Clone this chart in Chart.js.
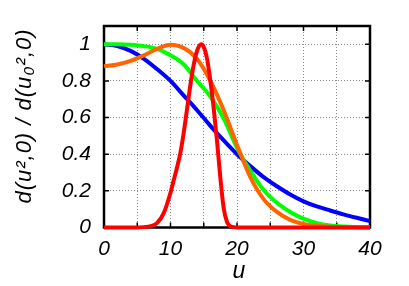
<!DOCTYPE html>
<html>
<head>
<meta charset="utf-8">
<script src="https://cdn.jsdelivr.net/npm/chart.js@4.4.1/dist/chart.umd.min.js"></script>
<style>
    html, body { margin: 0; padding: 0; background: #fff; }
    canvas { display: block; }
</style>
</head>
<body>
<canvas id="profileChart" width="409" height="286"></canvas>
<script>
// ===== Data =====
const uWide = [0, 2, 4, 6, 8, 10, 12, 14, 16, 18, 20, 22, 24, 26, 28, 30, 32, 34, 36, 38, 40];
const blueVals = [1.0, 0.991, 0.964, 0.921, 0.864, 0.80, 0.72, 0.64, 0.555, 0.475, 0.40, 0.335, 0.275, 0.225, 0.18, 0.143, 0.115, 0.093, 0.072, 0.053, 0.035];
const greenVals = [1.0, 1.0, 0.997, 0.99, 0.975, 0.94, 0.89, 0.80, 0.715, 0.595, 0.435, 0.31, 0.205, 0.135, 0.085, 0.048, 0.024, 0.011, 0.005, 0.002, 0.001];
const orangeVals = [0.88, 0.89, 0.91, 0.94, 0.975, 0.998, 0.98, 0.92, 0.80, 0.64, 0.45, 0.275, 0.155, 0.085, 0.042, 0.02, 0.009, 0.004, 0.002, 0.001, 0];

const uPeak = [0, 5, 6, 7, 8, 9, 10, 10.5, 11, 11.5, 12, 12.5, 13, 13.5, 14, 14.6, 15, 15.5, 16, 16.5, 17, 17.5, 18, 18.5, 19, 19.5, 20, 40];
const redVals = [0, 0, 0.002, 0.007, 0.025, 0.08, 0.19, 0.26, 0.33, 0.41, 0.52, 0.65, 0.78, 0.89, 0.965, 1.0, 0.985, 0.92, 0.80, 0.65, 0.47, 0.27, 0.105, 0.03, 0.007, 0.002, 0, 0];

const xGridTicks = [0, 5, 10, 15, 20, 25, 30, 35, 40];
const xLabelTicks = [0, 10, 20, 30, 40];
const yTicks = [0, 0.2, 0.4, 0.6, 0.8, 1.0];

const xTitle = 'u';
const yTitle = 'd(u\u00B2,0) / d(u\u2080\u00B2,0)';

// ===== Colors =====
const colors = {
    blue: '#0000ff',
    green: '#00ff00',
    orange: '#ff6400',
    red: '#ff0000',
    grid: '#8a8a8a'
};

const tickFont = { family: '"Liberation Sans", Arial, sans-serif', size: 21, style: 'italic' };

function toPoints(xs, ys) {
    return xs.map((x, i) => ({ x: x, y: ys[i] }));
}

function lineSet(label, xs, ys, color) {
    return {
        label: label,
        data: toPoints(xs, ys),
        borderColor: color,
        backgroundColor: color,
        borderWidth: 4,
        pointRadius: 0,
        showLine: true,
        cubicInterpolationMode: 'monotone',
        clip: 4
    };
}

// ===== Frame with inward ticks, gnuplot style =====
const framePlugin = {
    id: 'frame',
    beforeDatasetsDraw(chart) {
        const { ctx, chartArea: a, scales } = chart;
        ctx.save();
        ctx.strokeStyle = '#000';
        ctx.lineWidth = 1.5;
        ctx.beginPath();
        xGridTicks.forEach(v => {
            const px = scales.x.getPixelForValue(v);
            ctx.moveTo(px, a.bottom); ctx.lineTo(px, a.bottom - 5);
            ctx.moveTo(px, a.top); ctx.lineTo(px, a.top + 5);
        });
        yTicks.forEach(v => {
            const py = scales.y.getPixelForValue(v);
            ctx.moveTo(a.left, py); ctx.lineTo(a.left + 5, py);
            ctx.moveTo(a.right, py); ctx.lineTo(a.right - 5, py);
        });
        ctx.stroke();
        ctx.lineWidth = 2.5;
        ctx.strokeRect(a.left, a.top, a.right - a.left, a.bottom - a.top);
        ctx.restore();
    },
    afterDraw(chart) {
        const { ctx, chartArea: a } = chart;
        ctx.save();
        ctx.fillStyle = '#000';
        ctx.textAlign = 'center';
        ctx.textBaseline = 'middle';
        ctx.font = 'italic 23px "Liberation Sans", Arial, sans-serif';
        ctx.fillText(xTitle, (a.left + a.right) / 2 + 2, 272);

        ctx.translate(25, 116);
        ctx.rotate(-Math.PI / 2);
        ctx.font = 'italic 22px "Liberation Sans", Arial, sans-serif';
        ctx.letterSpacing = '1px';
        ctx.fillText(yTitle, 0, 0);
        ctx.restore();
    }
};

new Chart(document.getElementById('profileChart'), {
    type: 'scatter',
    data: {
        datasets: [
            lineSet('red', uPeak, redVals, colors.red),
            lineSet('orange', uWide, orangeVals, colors.orange),
            lineSet('green', uWide, greenVals, colors.green),
            lineSet('blue', uWide, blueVals, colors.blue)
        ]
    },
    options: {
        responsive: false,
        animation: false,
        layout: { padding: { top: 26, right: 39, left: 0, bottom: 0 } },
        plugins: {
            legend: { display: false },
            tooltip: { enabled: false }
        },
        scales: {
            x: {
                type: 'linear',
                min: 0,
                max: 40,
                afterBuildTicks: s => { s.ticks = xGridTicks.map(v => ({ value: v })); },
                afterFit: s => { s.height = 58.5; },
                grid: { color: colors.grid, lineWidth: 1, drawTicks: false },
                border: { display: false, dash: [1, 2] },
                ticks: {
                    autoSkip: false,
                    maxRotation: 0,
                    padding: 9,
                    color: '#000',
                    font: tickFont,
                    callback: v => xLabelTicks.includes(v) ? String(v) : ''
                }
            },
            y: {
                type: 'linear',
                min: 0,
                max: 1.1,
                afterBuildTicks: s => { s.ticks = yTicks.map(v => ({ value: v })); },
                afterFit: s => { s.width = 104; },
                grid: { color: colors.grid, lineWidth: 1, drawTicks: false },
                border: { display: false, dash: [1, 2] },
                ticks: {
                    padding: 13,
                    color: '#000',
                    font: tickFont,
                    callback: v => (v === 0 || v === 1) ? String(v) : v.toFixed(1)
                }
            }
        }
    },
    plugins: [framePlugin]
});
</script>
</body>
</html>
